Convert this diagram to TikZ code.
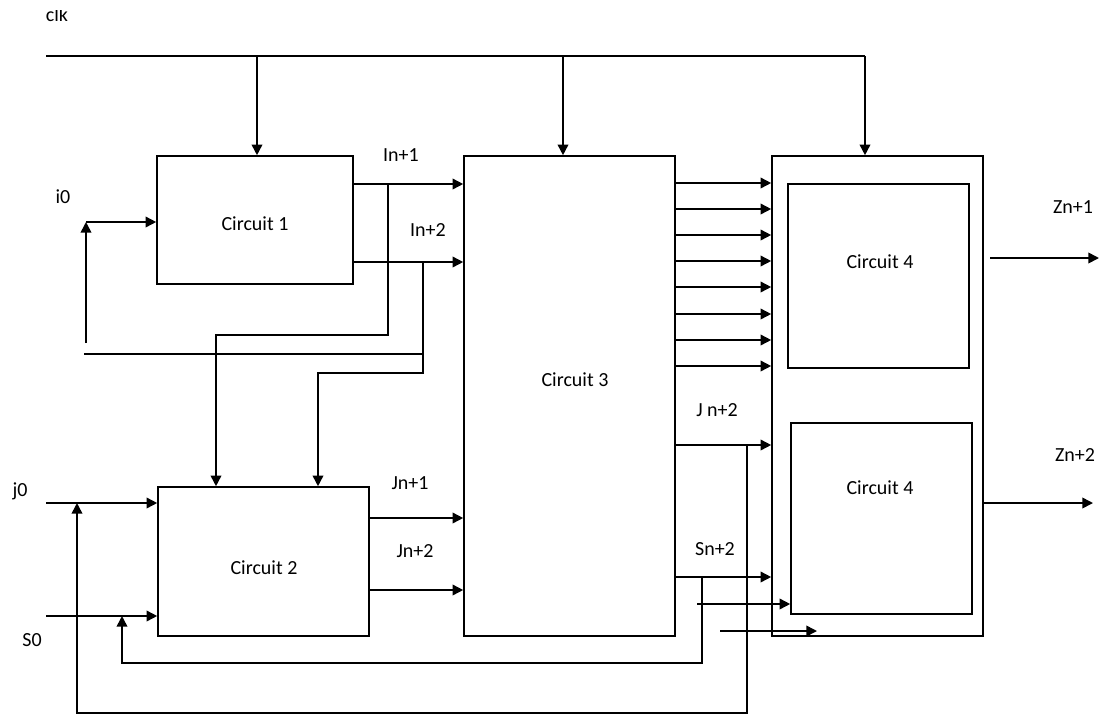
\documentclass[tikz,border=0pt]{standalone}
\usepackage{fontspec}
\setmainfont{Carlito}
\usetikzlibrary{arrows.meta}
\begin{document}
\begin{tikzpicture}[x=0.75pt,y=-0.75pt,
  wire/.style={line width=1.2pt},
  arr/.style={wire,-{Triangle[length=8pt,width=8pt]}},
  box/.style={draw,line width=1.2pt,inner sep=0pt},
  lbl/.style={font=\fontsize{15}{18}\selectfont,inner sep=0pt}]
\useasboundingbox (0,0) rectangle (1101,715);

% boxes
\node[box,minimum width=147pt,minimum height=96pt] (c1) at (255,220) {};
\node[box,minimum width=158.25pt,minimum height=111.75pt] (c2) at (263.5,561.5) {};
\node[box,minimum width=158.25pt,minimum height=360pt] (c3) at (569.5,396) {};
\node[box,minimum width=158.25pt,minimum height=360pt] (c4o) at (877.5,396) {};
\node[box,minimum width=135.75pt,minimum height=138pt] (c4a) at (878.5,276) {};
\node[box,minimum width=135.75pt,minimum height=143.25pt] (c4b) at (881.5,518.5) {};

% box texts
\node[lbl] (tc1) at (255,224) {Circuit 1};
\node[lbl] (tc2) at (264,568) {Circuit 2};
\node[lbl] (tc3) at (575,380) {Circuit 3};
\node[lbl] (tc4a) at (880,262) {Circuit 4};
\node[lbl] (tc4b) at (880,488) {Circuit 4};

% labels
\begin{scope}
  \clip (30,10) rectangle (90,40);
  \node[lbl,anchor=base] (lclk) at (57,21) {clk};
\end{scope}
\node[lbl] (li0) at (63,197) {i0};
\node[lbl] (lI1) at (401,155) {In+1};
\node[lbl] (lI2) at (428,230) {In+2};
\node[lbl] (lj0) at (20,491) {j0};
\node[lbl] (lS0) at (32,640) {S0};
\node[lbl] (lJ1) at (410,483) {Jn+1};
\node[lbl] (lJ2) at (415,551) {Jn+2};
\node[lbl] (lJn2) at (717,410) {J n+2};
\node[lbl] (lSn2) at (715,549) {Sn+2};
\node[lbl] (lZ1) at (1073,207) {Zn+1};
\node[lbl] (lZ2) at (1075,455) {Zn+2};

% clock
\coordinate (clkL) at (46,56);
\coordinate (clkR) at (865,56);
\coordinate (k1) at (257,56);
\coordinate (k2) at (563,56);
\draw[wire] (clkL) -- (clkR);
\draw[arr] (clkR) -- (clkR |- c4o.north);
\draw[arr] (k1) -- (k1 |- c1.north);
\draw[arr] (k2) -- (k2 |- c3.north);

% i0 input with feedback
\coordinate (i0b) at (86,343);
\coordinate (i0c) at (86,222);
\draw[arr] (i0b) -- (i0c);
\draw[arr] (i0c) -- (i0c -| c1.west);

% In+1
\coordinate (o1) at (c1.east |- 0,184);
\coordinate (t1) at (388,184);
\coordinate (b1) at (216,335);
\draw[arr] (o1) -- (o1 -| c3.west);
\draw[arr] (t1) |- (b1) -- (b1 |- c2.north);

% In+2
\coordinate (o2) at (c1.east |- 0,262);
\coordinate (t2) at (423,262);
\coordinate (b2) at (318,373);
\draw[arr] (o2) -- (o2 -| c3.west);
\draw[arr] (t2) |- (b2) -- (b2 |- c2.north);
\coordinate (fb1) at (84,354);
\draw[wire] (fb1) -- (fb1 -| t2);

% j0, S0
\coordinate (j0s) at (46,503);
\coordinate (s0s) at (46,616);
\draw[arr] (j0s) -- (j0s -| c2.west);
\draw[arr] (s0s) -- (s0s -| c2.west);

% Jn+1, Jn+2
\coordinate (p1) at (c2.east |- 0,518);
\coordinate (p2) at (c2.east |- 0,590);
\draw[arr] (p1) -- (p1 -| c3.west);
\draw[arr] (p2) -- (p2 -| c3.west);

% Circuit 3 to Circuit 4 bus
\foreach \y in {183,209,235,261,287,314,340,366}
  \draw[arr] (c3.east |- 0,\y) -- (c4o.west |- 0,\y);

% J n+2, Sn+2
\coordinate (q1) at (c3.east |- 0,445);
\coordinate (q2) at (c3.east |- 0,577);
\draw[arr] (q1) -- (q1 -| c4o.west);
\draw[arr] (q2) -- (q2 -| c4o.west);

% feedback J
\coordinate (fj) at (747,445);
\coordinate (fjb) at (747,713);
\coordinate (fjt) at (77,503);
\draw[arr] (fj) -- (fjb) -| (fjt);

% feedback S
\coordinate (fs) at (702,577);
\coordinate (fsb) at (702,663);
\coordinate (fst) at (122,616);
\draw[arr] (fs) -- (fsb) -| (fst);

% extra inputs
\coordinate (e1) at (697,604);
\draw[arr] (e1) -- (e1 -| c4b.west);
\coordinate (e2) at (720,631);
\coordinate (e2t) at (817,631);
\draw[arr] (e2) -- (e2t);

% outputs
\coordinate (z1) at (990,258);
\coordinate (z1t) at (1099,258);
\draw[arr] (z1) -- (z1t);
\coordinate (z2) at (c4o.east |- 0,503);
\coordinate (z2t) at (1093,503);
\draw[arr] (z2) -- (z2t);
\end{tikzpicture}
\end{document}
